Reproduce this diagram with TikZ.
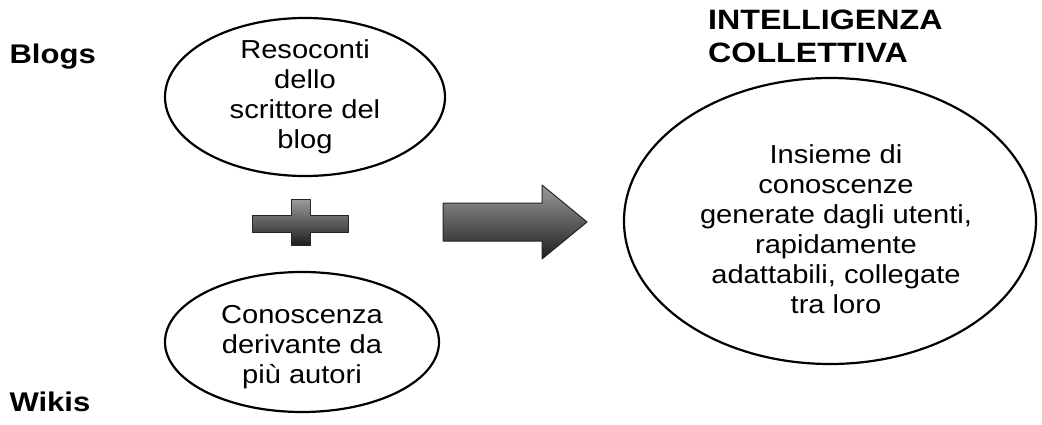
\documentclass[tikz,border=0pt]{standalone}
\usepackage{fontspec}
\usetikzlibrary{shapes.geometric}
\newfontfamily\bodyfont{Liberation Sans}[FakeStretch=1.12]
\newfontfamily\labelfont{Liberation Sans}[FakeStretch=1.15]
\definecolor{shapetop}{HTML}{9C9C9C}
\definecolor{shapebot}{HTML}{1E1E1E}
\tikzset{
  bubble/.style={draw=black, line width=2.2pt, ellipse, inner sep=0pt},
  bubbletext/.style={align=center, font=\bodyfont\fontsize{26}{30}\selectfont},
  sidelabel/.style={anchor=west, font=\labelfont\bfseries\fontsize{27}{33}\selectfont},
  solidshape/.style={draw=black!85, line width=1pt, line join=round,
    top color=shapetop, bottom color=shapebot}
}
\begin{document}
\begin{tikzpicture}[x=1pt,y=1pt]
  \useasboundingbox (0,0) rectangle (1042,424);

  % left column: two source bubbles
  \node[bubble, minimum width=280pt, minimum height=158pt] (blog) at (305,327) {};
  \node[bubbletext] (blogtxt) at (blog.center) {Resoconti\\dello\\scrittore del\\blog};
  \node[bubble, minimum width=274pt, minimum height=140pt] (wiki) at (302,82) {};
  \node[bubbletext] (wikitxt) at ([yshift=-5pt]wiki.center) {Conoscenza\\derivante da\\più autori};

  % side labels
  \node[sidelabel] (lblog) at (6,367) {Blogs};
  \node[sidelabel] (lwiki) at (6,22) {Wikis};

  % plus sign between the two sources
  \path[solidshape] (252,192) -- (291,192) -- (291,179) -- (310,179) -- (310,192)
    -- (348,192) -- (348,209) -- (310,209) -- (310,225) -- (291,225)
    -- (291,209) -- (252,209) -- cycle;

  % block arrow towards the result
  \path[solidshape] (443,183) -- (542,183) -- (542,165) -- (587,202)
    -- (542,239) -- (542,221) -- (443,221) -- cycle;

  % result bubble
  \node[bubble, minimum width=412pt, minimum height=286pt] (ci) at (830,203) {};
  \node[bubbletext] (citxt) at (836,195) {Insieme di\\conoscenze\\generate dagli utenti,\\rapidamente\\adattabili, collegate\\tra loro};
  \node[anchor=north west, align=left, inner sep=0pt,
        font=\labelfont\bfseries\fontsize{28}{33}\selectfont] (citle) at (708,414)
        {INTELLIGENZA\\COLLETTIVA};
\end{tikzpicture}
\end{document}
